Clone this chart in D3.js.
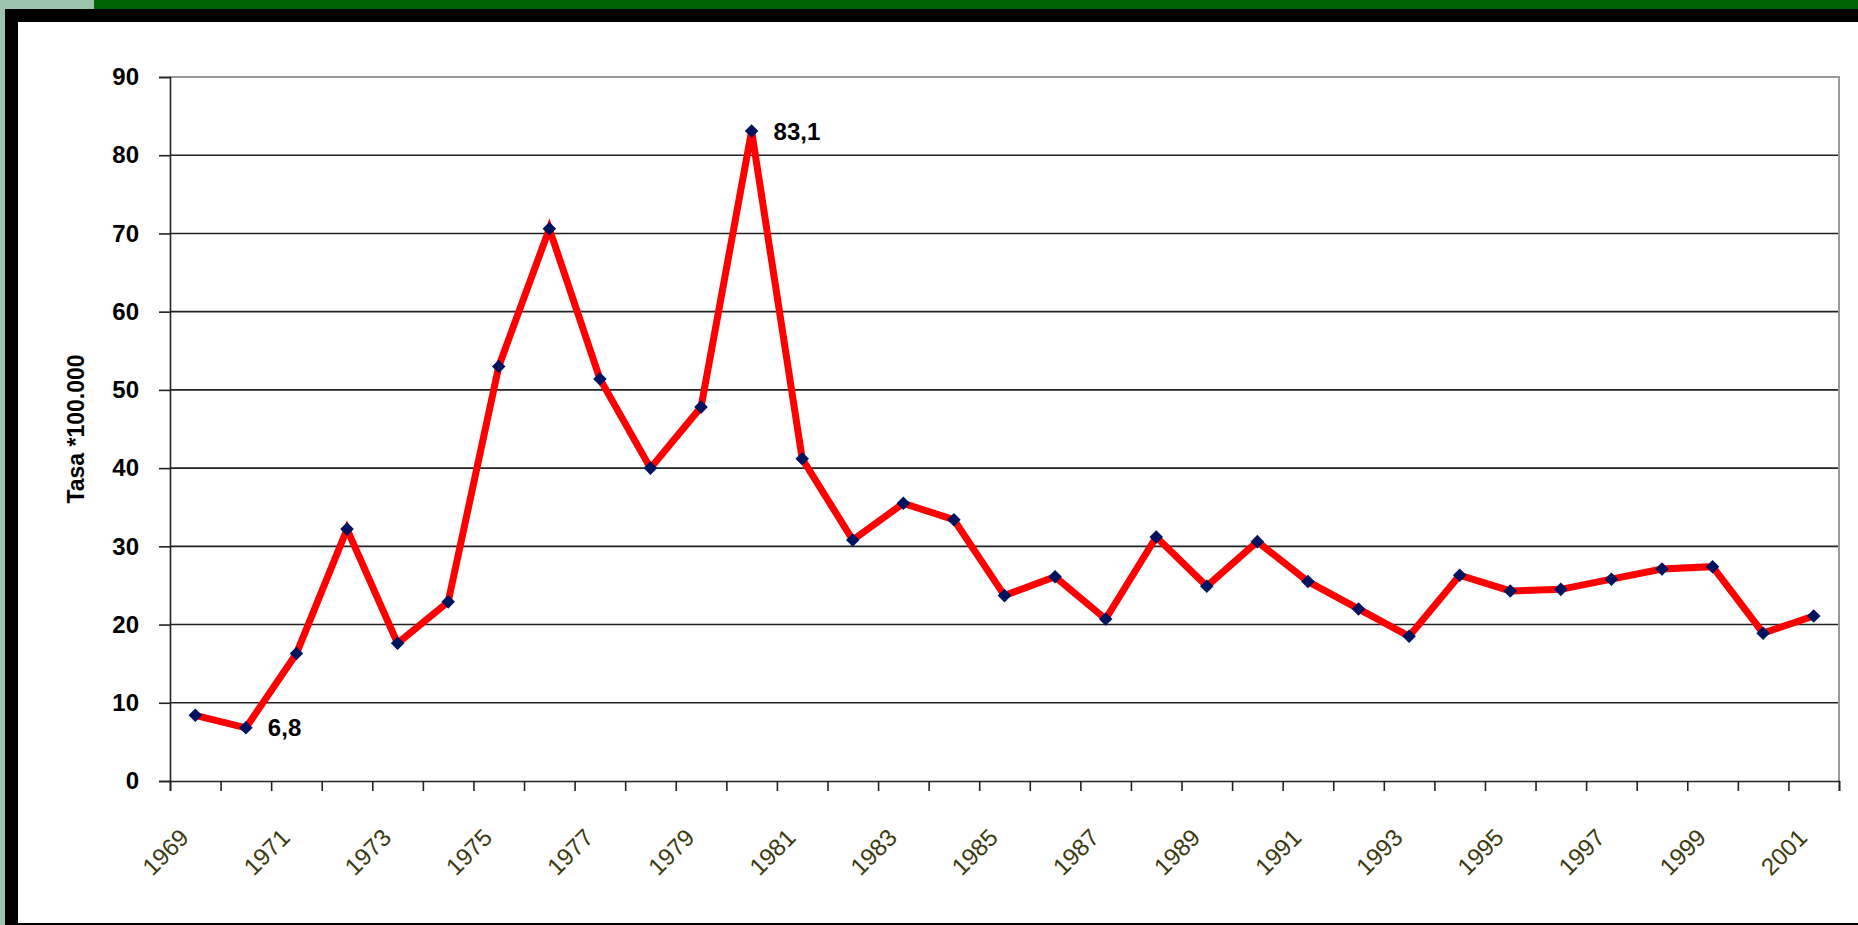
<!doctype html>
<html lang="es">
<head>
<meta charset="utf-8">
<title>Tasa *100.000 1969-2001</title>
<script src="https://d3js.org/d3.v7.min.js"></script>
<style>
  html, body { margin: 0; padding: 0; background: #fff; }
  svg { display: block; font-family: "Liberation Sans", Arial, sans-serif; }
</style>
</head>
<body>
<script>
// data
var years = d3.range(1969, 2002);
var rate = [8.4, 6.8, 16.3, 32.2, 17.6, 22.9, 53.0, 70.6, 51.4, 40.0,
            47.8, 83.1, 41.2, 30.8, 35.5, 33.4, 23.7, 26.1, 20.7, 31.2,
            24.9, 30.6, 25.5, 22.0, 18.5, 26.3, 24.3, 24.5, 25.8, 27.1,
            27.4, 18.9, 21.1];
var yTicks = [0, 10, 20, 30, 40, 50, 60, 70, 80, 90];
var labelYears = years.filter(function (y) { return (y - 1969) % 2 === 0; });
var pointLabels = [1970, 1980];   // only these two values are printed

var W = 1858, H = 925;
var plotLeft = 170, plotRight = 1839, plotTop = 77, plotBottom = 781;

var svg = d3.select('body').append('svg')
  .attr('width', W)
  .attr('height', H);

// slide frame
svg.append('rect').attr('width', W).attr('height', H).attr('fill', '#9dc5ad');
svg.append('rect').attr('x', 94).attr('y', 0).attr('width', W - 94).attr('height', 9).attr('fill', '#006400');
svg.append('rect').attr('x', 5).attr('y', 9).attr('width', W - 5).attr('height', H - 9).attr('fill', '#000');
svg.append('rect').attr('x', 18).attr('y', 22).attr('width', W - 18).attr('height', 901).attr('fill', '#fff');

var x = d3.scaleBand().domain(years).range([plotLeft, plotRight]).padding(0);
var xEdge = d3.scaleLinear().domain([0, years.length]).range([plotLeft, plotRight]);
var y = d3.scaleLinear().domain([0, 90]).range([plotBottom, plotTop]);

// grid lines
svg.append('g')
  .selectAll('line')
  .data(yTicks.filter(function (d) { return d > 0 && d < 90; }))
  .enter().append('line')
  .attr('x1', plotLeft).attr('x2', plotRight)
  .attr('y1', function (d) { return y(d); })
  .attr('y2', function (d) { return y(d); })
  .attr('stroke', '#222')
  .attr('stroke-width', 1.6);

// plot area border (top + right)
svg.append('path')
  .attr('d', 'M' + plotLeft + ',' + y(90) + 'H' + plotRight + 'V' + y(0))
  .attr('fill', 'none')
  .attr('stroke', '#9a9a9a')
  .attr('stroke-width', 2);

// y axis
var yAxis = svg.append('g')
  .attr('transform', 'translate(' + plotLeft + ',0)')
  .call(d3.axisLeft(y).tickValues(yTicks).tickSize(11).tickPadding(20));
yAxis.select('.domain').attr('stroke', '#222').attr('stroke-width', 1.6);
yAxis.selectAll('.tick line').attr('stroke', '#222').attr('stroke-width', 1.6);
yAxis.selectAll('.tick text')
  .attr('font-size', 24)
  .attr('font-weight', 'bold')
  .attr('font-family', '"Liberation Sans", Arial, sans-serif')
  .attr('fill', '#000');

// x axis: tick marks between categories
var xAxis = svg.append('g')
  .attr('transform', 'translate(0,' + plotBottom + ')')
  .call(d3.axisBottom(xEdge).tickValues(d3.range(years.length + 1)).tickSize(10).tickFormat(''));
xAxis.select('.domain').attr('stroke', '#222').attr('stroke-width', 1.6);
xAxis.selectAll('.tick line').attr('stroke', '#222').attr('stroke-width', 1.6);

// x labels, rotated
svg.append('g')
  .selectAll('text')
  .data(labelYears)
  .enter().append('text')
  .attr('transform', function (d) {
    return 'translate(' + (x(d) + x.bandwidth() / 2 - 5) + ',' + 839 + ') rotate(-45)';
  })
  .attr('text-anchor', 'end')
  .attr('font-size', 24)
  .attr('fill', '#3a3a10')
  .text(function (d) { return d; });

// y title
svg.append('text')
  .attr('transform', 'translate(84,' + ((plotTop + plotBottom) / 2) + ') rotate(-90)')
  .attr('text-anchor', 'middle')
  .attr('font-size', 23)
  .attr('font-weight', 'bold')
  .text('Tasa *100.000');

// series line
var pts = years.map(function (d, i) { return { year: d, v: rate[i] }; });
var line = d3.line()
  .x(function (d) { return x(d.year) + x.bandwidth() / 2; })
  .y(function (d) { return y(d.v); });

svg.append('path')
  .datum(pts)
  .attr('d', line)
  .attr('fill', 'none')
  .attr('stroke', '#ff0000')
  .attr('stroke-width', 7)
  .attr('stroke-linejoin', 'miter');

// diamond markers
svg.append('g')
  .selectAll('path')
  .data(pts)
  .enter().append('path')
  .attr('d', d3.symbol().type(d3.symbolSquare).size(92))
  .attr('transform', function (d) {
    return 'translate(' + (x(d.year) + x.bandwidth() / 2) + ',' + y(d.v) + ') rotate(45)';
  })
  .attr('fill', '#00135e');

// value labels
svg.append('g')
  .selectAll('text')
  .data(pts.filter(function (d) { return pointLabels.indexOf(d.year) >= 0; }))
  .enter().append('text')
  .attr('x', function (d) { return x(d.year) + x.bandwidth() / 2 + 22; })
  .attr('y', function (d) { return y(d.v); })
  .attr('dy', '0.36em')
  .attr('font-size', 24)
  .attr('font-weight', 'bold')
  .text(function (d) { return String(d.v).replace('.', ','); });
</script>
</body>
</html>
